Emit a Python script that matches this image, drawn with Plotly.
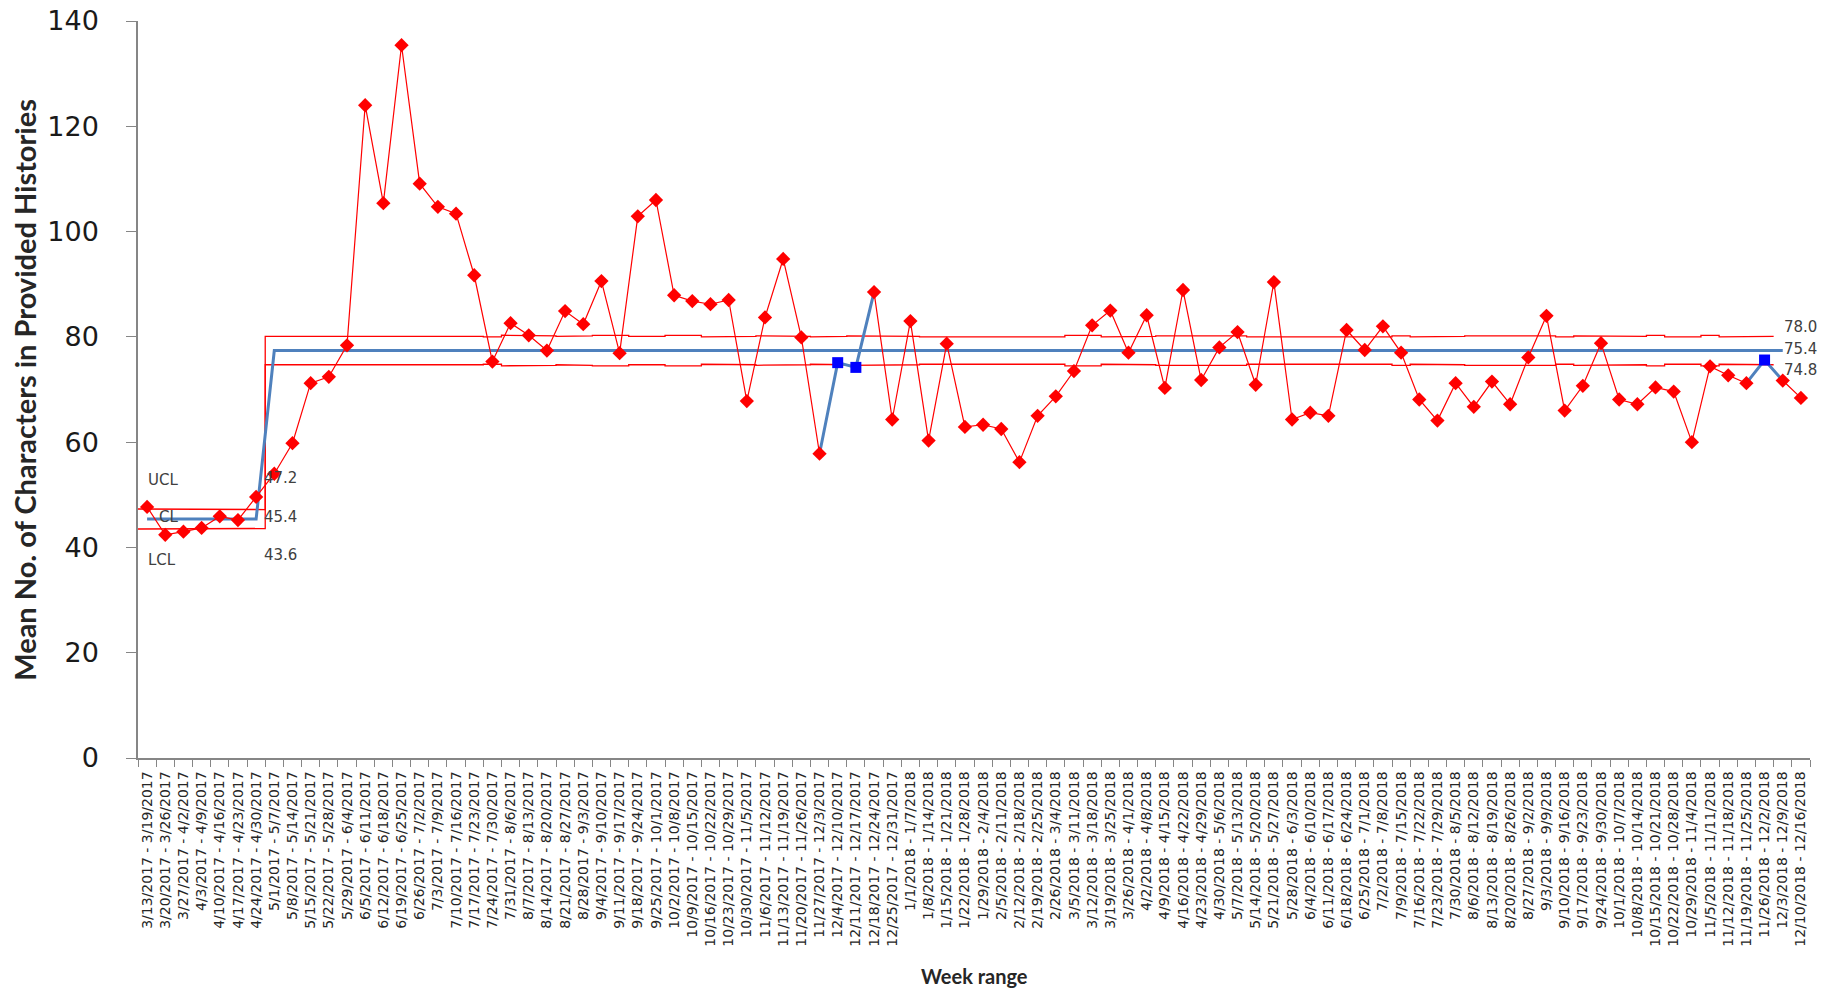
import plotly.graph_objects as go

week_labels = [
    "3/13/2017 - 3/19/2017", "3/20/2017 - 3/26/2017", "3/27/2017 - 4/2/2017", "4/3/2017 - 4/9/2017",
    "4/10/2017 - 4/16/2017", "4/17/2017 - 4/23/2017", "4/24/2017 - 4/30/2017", "5/1/2017 - 5/7/2017",
    "5/8/2017 - 5/14/2017", "5/15/2017 - 5/21/2017", "5/22/2017 - 5/28/2017", "5/29/2017 - 6/4/2017",
    "6/5/2017 - 6/11/2017", "6/12/2017 - 6/18/2017", "6/19/2017 - 6/25/2017", "6/26/2017 - 7/2/2017",
    "7/3/2017 - 7/9/2017", "7/10/2017 - 7/16/2017", "7/17/2017 - 7/23/2017", "7/24/2017 - 7/30/2017",
    "7/31/2017 - 8/6/2017", "8/7/2017 - 8/13/2017", "8/14/2017 - 8/20/2017", "8/21/2017 - 8/27/2017",
    "8/28/2017 - 9/3/2017", "9/4/2017 - 9/10/2017", "9/11/2017 - 9/17/2017", "9/18/2017 - 9/24/2017",
    "9/25/2017 - 10/1/2017", "10/2/2017 - 10/8/2017", "10/9/2017 - 10/15/2017", "10/16/2017 - 10/22/2017",
    "10/23/2017 - 10/29/2017", "10/30/2017 - 11/5/2017", "11/6/2017 - 11/12/2017", "11/13/2017 - 11/19/2017",
    "11/20/2017 - 11/26/2017", "11/27/2017 - 12/3/2017", "12/4/2017 - 12/10/2017", "12/11/2017 - 12/17/2017",
    "12/18/2017 - 12/24/2017", "12/25/2017 - 12/31/2017", "1/1/2018 - 1/7/2018", "1/8/2018 - 1/14/2018",
    "1/15/2018 - 1/21/2018", "1/22/2018 - 1/28/2018", "1/29/2018 - 2/4/2018", "2/5/2018 - 2/11/2018",
    "2/12/2018 - 2/18/2018", "2/19/2018 - 2/25/2018", "2/26/2018 - 3/4/2018", "3/5/2018 - 3/11/2018",
    "3/12/2018 - 3/18/2018", "3/19/2018 - 3/25/2018", "3/26/2018 - 4/1/2018", "4/2/2018 - 4/8/2018",
    "4/9/2018 - 4/15/2018", "4/16/2018 - 4/22/2018", "4/23/2018 - 4/29/2018", "4/30/2018 - 5/6/2018",
    "5/7/2018 - 5/13/2018", "5/14/2018 - 5/20/2018", "5/21/2018 - 5/27/2018", "5/28/2018 - 6/3/2018",
    "6/4/2018 - 6/10/2018", "6/11/2018 - 6/17/2018", "6/18/2018 - 6/24/2018", "6/25/2018 - 7/1/2018",
    "7/2/2018 - 7/8/2018", "7/9/2018 - 7/15/2018", "7/16/2018 - 7/22/2018", "7/23/2018 - 7/29/2018",
    "7/30/2018 - 8/5/2018", "8/6/2018 - 8/12/2018", "8/13/2018 - 8/19/2018", "8/20/2018 - 8/26/2018",
    "8/27/2018 - 9/2/2018", "9/3/2018 - 9/9/2018", "9/10/2018 - 9/16/2018", "9/17/2018 - 9/23/2018",
    "9/24/2018 - 9/30/2018", "10/1/2018 - 10/7/2018", "10/8/2018 - 10/14/2018", "10/15/2018 - 10/21/2018",
    "10/22/2018 - 10/28/2018", "10/29/2018 - 11/4/2018", "11/5/2018 - 11/11/2018", "11/12/2018 - 11/18/2018",
    "11/19/2018 - 11/25/2018", "11/26/2018 - 12/2/2018", "12/3/2018 - 12/9/2018", "12/10/2018 - 12/16/2018",
]

mean_chars = [
    47.7, 42.4, 43.0, 43.7, 45.9, 45.2, 49.6, 54.0, 59.8, 71.2,
    72.4, 78.4, 124.0, 105.4, 135.4, 109.1, 104.7, 103.4, 91.7, 75.3,
    82.6, 80.3, 77.4, 84.9, 82.4, 90.6, 76.9, 102.9, 106.0, 87.9,
    86.8, 86.2, 87.0, 67.8, 83.7, 94.8, 79.9, 57.8, 75.1, 74.2,
    88.5, 64.3, 83.0, 60.3, 78.7, 62.9, 63.3, 62.5, 56.2, 65.0,
    68.7, 73.5, 82.2, 85.0, 77.0, 84.1, 70.3, 88.9, 71.8, 78.0,
    80.9, 70.9, 90.4, 64.3, 65.6, 65.0, 81.3, 77.5, 82.0, 77.0,
    68.1, 64.1, 71.2, 66.7, 71.5, 67.2, 76.1, 84.0, 66.0, 70.7,
    78.8, 68.1, 67.2, 70.4, 69.6, 60.0, 74.4, 72.7, 71.2, 75.6,
    71.7, 68.4,
]

# centre line per point (stage 1: weeks 0-6, stage 2: weeks 7-90)
center_line = [45.4] * 7 + [77.4] * 84

# upper / lower control limits per point (weeks 0-89)
ucl = [47.3, 47.2, 47.2, 47.3, 47.2, 47.2, 47.2,
       80.1, 80.1, 80.2, 80.2, 80.1, 80.2, 80.2, 80.1, 80.1, 80.2,
       80.1, 80.1, 80.0, 80.3, 80.2, 80.2, 80.1, 80.2, 80.3, 80.3,
       80.1, 80.1, 80.3, 80.3, 80.0, 80.1, 80.1, 80.2, 80.2, 80.1,
       80.0, 80.1, 80.2, 80.2, 80.2, 80.1, 80.0, 79.9, 79.9, 80.0,
       80.0, 80.0, 79.9, 80.0, 80.3, 80.3, 80.0, 80.1, 80.1, 80.2,
       80.2, 80.1, 80.2, 80.2, 80.0, 80.0, 80.1, 80.0, 80.0, 80.0,
       80.1, 80.0, 80.2, 80.0, 80.0, 80.1, 80.2, 80.2, 80.1, 80.2,
       80.2, 80.0, 80.2, 80.2, 80.1, 80.1, 80.3, 80.0, 80.0, 80.3,
       80.0, 80.1, 80.1]
lcl = [43.5, 43.6, 43.6, 43.5, 43.6, 43.6, 43.6,
       74.7, 74.7, 74.6, 74.6, 74.7, 74.6, 74.6, 74.7, 74.7, 74.6,
       74.7, 74.7, 74.8, 74.5, 74.6, 74.6, 74.7, 74.6, 74.5, 74.5,
       74.7, 74.7, 74.5, 74.5, 74.8, 74.7, 74.7, 74.6, 74.6, 74.7,
       74.8, 74.7, 74.6, 74.6, 74.6, 74.7, 74.8, 74.9, 74.9, 74.8,
       74.8, 74.8, 74.9, 74.8, 74.5, 74.5, 74.8, 74.7, 74.7, 74.6,
       74.6, 74.7, 74.6, 74.6, 74.8, 74.8, 74.7, 74.8, 74.8, 74.8,
       74.7, 74.8, 74.6, 74.8, 74.8, 74.7, 74.6, 74.6, 74.7, 74.6,
       74.6, 74.8, 74.6, 74.6, 74.7, 74.7, 74.5, 74.8, 74.8, 74.5,
       74.8, 74.7, 74.7]

# points flagged by the trend rule (blue) and the runs they belong to
flag_runs = [[37, 38, 39, 40], [88, 89, 90]]
flag_points = [38, 39, 89]

left_labels = ["UCL", "CL", "LCL"]
left_label_y = [52.8, 45.8, 37.6]
stage1_values = ["47.2", "45.4", "43.6"]
stage1_value_y = [53.2, 45.8, 38.6]
stage2_values = ["78.0", "75.4", "74.8"]
stage2_value_y = [81.9, 77.6, 73.7]

RED = "#FF0000"
BLUE_LINE = "#4F81BD"
AXIS_GREY = "#868686"

n = len(mean_chars)
idx = list(range(n))


def step_path(vals):
    xs, ys = [], []
    for i, v in enumerate(vals):
        xs += [i - 0.5, i + 0.5]
        ys += [v, v]
    return xs, ys


fig = go.Figure()

ux, uy = step_path(ucl)
lx, ly = step_path(lcl)
for xs, ys in ((ux, uy), (lx, ly)):
    fig.add_trace(go.Scatter(x=xs, y=ys, mode="lines",
                             line=dict(color=RED, width=1.3), hoverinfo="skip"))

fig.add_trace(go.Scatter(x=idx[:len(center_line)], y=center_line, mode="lines",
                         line=dict(color=BLUE_LINE, width=3), hoverinfo="skip"))

fig.add_trace(go.Scatter(x=idx, y=mean_chars, mode="lines",
                         line=dict(color=RED, width=1.2)))

for run in flag_runs:
    fig.add_trace(go.Scatter(x=run, y=[mean_chars[i] for i in run], mode="lines",
                             line=dict(color=BLUE_LINE, width=3)))

normal = [i for i in idx if i not in flag_points]
fig.add_trace(go.Scatter(x=normal, y=[mean_chars[i] for i in normal], mode="markers",
                         marker=dict(symbol="diamond", size=11, color=RED,
                                     line=dict(width=0))))
fig.add_trace(go.Scatter(x=flag_points, y=[mean_chars[i] for i in flag_points], mode="markers",
                         marker=dict(symbol="square", size=11, color="#0000FF",
                                     line=dict(width=0))))

ann_font = dict(family="DejaVu Sans", size=15, color="#404040")
annotations = []
for t, y in zip(left_labels, left_label_y):
    annotations.append(dict(x=0, y=y, xref="x", yref="y", text=t, showarrow=False,
                            xanchor="left", yanchor="middle", font=ann_font,
                            xshift=(10 if t == "CL" else -1)))
for t, y in zip(stage1_values, stage1_value_y):
    annotations.append(dict(x=6.5, y=y, xref="x", yref="y", text=t, showarrow=False,
                            xanchor="left", yanchor="middle", font=ann_font, xshift=-3))
for t, y in zip(stage2_values, stage2_value_y):
    annotations.append(dict(x=89.5, y=y, xref="x", yref="y", text=t, showarrow=False,
                            xanchor="left", yanchor="middle", font=ann_font, xshift=8))

annotations.append(dict(x=-0.068, y=0.5, xref="paper", yref="paper",
                        text="<b>Mean No. of Characters in Provided Histories</b>",
                        textangle=-90, showarrow=False, xanchor="center", yanchor="middle",
                        font=dict(family="Lato", size=29, color="#262626")))
annotations.append(dict(x=0.5, y=-0.296, xref="paper", yref="paper",
                        text="<b>Week range</b>", showarrow=False,
                        xanchor="center", yanchor="middle",
                        font=dict(family="Lato", size=20, color="#262626")))

fig.update_layout(
    width=1829, height=989,
    margin=dict(l=138, r=19, t=21, b=231, autoexpand=False),
    paper_bgcolor="white", plot_bgcolor="white",
    showlegend=False,
    annotations=annotations,
    xaxis=dict(
        range=[-0.5, n - 0.5], tickmode="array", tickvals=idx, ticktext=week_labels,
        tickangle=-90, ticks="", showgrid=False, zeroline=False, automargin=False,
        showline=True, linecolor=AXIS_GREY, linewidth=1.5,
        tickfont=dict(family="DejaVu Sans", size=14, color="#262626"),
        ticklabelstandoff=6,
        minor=dict(tickmode="array", tickvals=[i - 0.5 for i in range(n + 1)],
                   ticks="outside", ticklen=7, tickcolor=AXIS_GREY, tickwidth=1,
                   showgrid=False),
    ),
    yaxis=dict(
        range=[0, 140], tickmode="array", tickvals=[0, 20, 40, 60, 80, 100, 120, 140],
        ticks="outside", ticklen=10, tickcolor=AXIS_GREY, tickwidth=1, automargin=False,
        showgrid=False, zeroline=False, showline=True, linecolor=AXIS_GREY, linewidth=1.5,
        tickfont=dict(family="DejaVu Sans", size=27, color="#1a1a1a"),
        ticklabelstandoff=22,
    ),
)

fig.write_html("out.html", config={"displayModeBar": False},
               post_script="document.body.style.margin='0';")
